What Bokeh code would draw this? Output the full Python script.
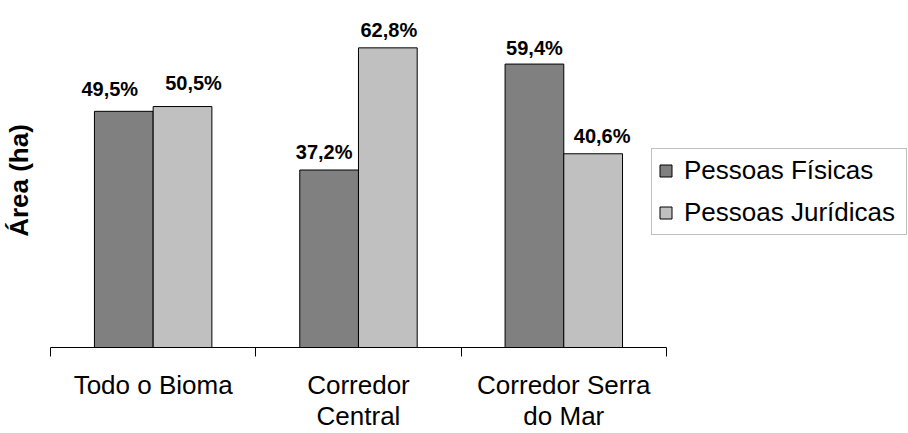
from bokeh.plotting import figure
from bokeh.models import (ColumnDataSource, Range1d, LinearAxis,
                          FixedTicker, Legend, LegendItem)
from bokeh.transform import dodge
from bokeh.core.properties import value
from bokeh.embed import file_html
from bokeh.resources import INLINE

# ---- data ----
categories = ["Todo o Bioma", "Corredor Central", "Corredor Serra do Mar"]
category_labels = ["Todo o Bioma", "Corredor\nCentral", "Corredor Serra\ndo Mar"]
series_names = ["Pessoas Físicas", "Pessoas Jurídicas"]
pessoas_fisicas = [49.5, 37.2, 59.4]
pessoas_juridicas = [50.5, 62.8, 40.6]
y_axis_title = "Área (ha)"

# ---- style (label nudges in screen px) ----
fis_label_dx = [-14, -5, 0]
jur_label_dx = [11, 1, 9]
fis_label_gap = [22, 18, 16]
jur_label_gap = [24, 18, 18]

FONT = "Liberation Sans"
BAR_W = 0.286
OFF = 0.143
LEGEND_SPACE = 1.174   # extra room (in category slots) right of the bars for the legend


def pct(v):
    return f"{v:.1f}%".replace(".", ",")


n = len(categories)
slot_centre = [i + 0.5 for i in range(n)]  # one unit slot per category
line1 = [lab.split("\n")[0] for lab in category_labels]
line2 = [(lab.split("\n") + [""])[1] for lab in category_labels]

src = ColumnDataSource(dict(
    cat=categories,
    xc=slot_centre,
    fis=pessoas_fisicas,
    jur=pessoas_juridicas,
    fis_txt=[pct(v) for v in pessoas_fisicas],
    jur_txt=[pct(v) for v in pessoas_juridicas],
    fis_dx=fis_label_dx,
    jur_dx=jur_label_dx,
    fis_dy=[-g for g in fis_label_gap],
    jur_dy=[-g for g in jur_label_gap],
))

p = figure(width=908, height=433,
           x_range=Range1d(0, n + LEGEND_SPACE),
           y_range=Range1d(0, 70),
           output_backend="svg", toolbar_location=None,
           x_axis_location=None, y_axis_location=None,
           min_border_left=50, min_border_right=1,
           min_border_top=13, min_border_bottom=85)
p.outline_line_color = None
p.xgrid.visible = False
p.ygrid.visible = False
p.background_fill_color = "white"
p.border_fill_color = "white"

r1 = p.vbar(x=dodge("xc", -OFF), top="fis", width=BAR_W,
            source=src, fill_color="#808080", line_color="black", line_width=1)
r2 = p.vbar(x=dodge("xc", OFF), top="jur", width=BAR_W,
            source=src, fill_color="#C0C0C0", line_color="black", line_width=1)

common = dict(text_align="center", text_baseline="alphabetic",
              text_font=value(FONT), text_font_style="bold",
              text_font_size="20px", text_color="black", source=src)
p.text(x=dodge("xc", -OFF), y="fis", text="fis_txt",
       x_offset="fis_dx", y_offset="fis_dy", **common)
p.text(x=dodge("xc", OFF), y="jur", text="jur_txt",
       x_offset="jur_dx", y_offset="jur_dy", **common)

# x axis (first line of category names, separators as minor ticks)
xa = LinearAxis(
    bounds=(0, n),
    ticker=FixedTicker(ticks=slot_centre,
                       minor_ticks=[float(i) for i in range(n + 1)]),
    major_label_overrides={c: t for c, t in zip(slot_centre, line1)},
    major_tick_out=0, major_tick_in=0,
    minor_tick_out=9, minor_tick_in=0,
    minor_tick_line_color="black",
    axis_line_color="black", axis_line_width=1,
    major_label_standoff=13,
    major_label_text_font=FONT,
    major_label_text_font_size="26px",
    major_label_text_color="black",
)
p.add_layout(xa, "below")

# second line of category names
xb = LinearAxis(
    bounds=(0, n),
    ticker=FixedTicker(ticks=slot_centre, minor_ticks=[]),
    major_label_overrides={c: t for c, t in zip(slot_centre, line2)},
    major_tick_out=0, major_tick_in=0,
    minor_tick_out=0, minor_tick_in=0,
    axis_line_color=None,
    major_label_standoff=-2,
    major_label_text_font=FONT,
    major_label_text_font_size="26px",
    major_label_text_color="black",
)
p.add_layout(xb, "below")

ya = LinearAxis(
    ticker=FixedTicker(ticks=[]),
    axis_line_color=None,
    major_tick_out=0, major_tick_in=0, minor_tick_out=0, minor_tick_in=0,
    major_label_standoff=0,
    axis_label=y_axis_title,
    axis_label_text_font=FONT,
    axis_label_text_font_style="bold",
    axis_label_text_font_size="26px",
    axis_label_text_color="black",
    axis_label_standoff=17,
)
p.add_layout(ya, "left")

legend = Legend(
    items=[LegendItem(label=series_names[0], renderers=[r1]),
           LegendItem(label=series_names[1], renderers=[r2])],
    location=(601, 112),
    label_text_font=FONT, label_text_font_size="26px", label_text_color="black",
    glyph_width=15, glyph_height=15, label_standoff=11, label_width=216,
    spacing=11, padding=6, margin=0,
    border_line_color="#808080", border_line_width=1,
    background_fill_color="white", background_fill_alpha=1,
)
p.add_layout(legend, "center")

open("out.html", "w").write(file_html(p, INLINE))
